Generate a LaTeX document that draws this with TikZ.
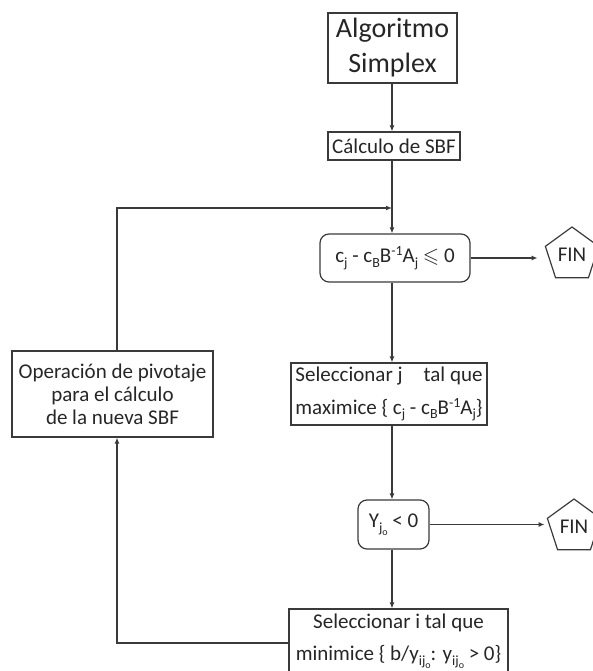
\documentclass[tikz,border=0pt]{standalone}
\usepackage{fontspec}
\setmainfont{Carlito}
\usepackage{amssymb}
\usetikzlibrary{shapes.geometric,arrows.meta}
\definecolor{ink}{HTML}{262626}
\definecolor{linec}{HTML}{3A3A3A}
\newcommand\lo[1]{\raisebox{-4.5pt}{\fontsize{14}{14}\selectfont #1}}
\newcommand\hi[1]{\raisebox{7pt}{\fontsize{14}{14}\selectfont #1}}
\newcommand\jo{\lo{j\raisebox{-3pt}{\fontsize{10}{10}\selectfont o}}}
\newcommand\ijo{\lo{ij\raisebox{-3pt}{\fontsize{10}{10}\selectfont o}}}
\begin{document}
\begin{tikzpicture}[x=1pt,y=-1pt,
  box/.style={draw=linec, line width=1.2pt, text=ink, inner sep=0pt, align=center, font=\fontsize{21}{24}\selectfont},
  rbox/.style={box, rounded corners=9pt},
  fin/.style={draw=linec, line width=1.2pt, text=ink, regular polygon, regular polygon sides=5, minimum size=56pt, inner sep=0pt, font=\fontsize{21}{24}\selectfont},
  flow/.style={draw=linec, line width=1.2pt, -{Latex[length=6pt,width=5pt]}},
  conn/.style={draw=linec, line width=1.2pt}]
\useasboundingbox (0,0) rectangle (592,671);
\coordinate (col) at (392,0);
\coordinate (lcol) at (117,0);
\coordinate (join) at (392,208);

\node[box, minimum width=129pt, minimum height=70pt, font=\fontsize{28}{35}\selectfont] (alg) at (392.5,48) {Algoritmo\\Simplex};
\node[box, minimum width=132pt, minimum height=28pt] (calc) at (394,146) {Cálculo de SBF};
\node[rbox, minimum width=150pt, minimum height=48pt] (dec1) at (395,258) {c\lo{j} - c\lo{B}B\hi{-1}A\lo{j} $\leqslant$ 0};
\node[fin] (fin1) at (572,255) {FIN};
\node[box, minimum width=196pt, minimum height=62pt, font=\fontsize{21}{33}\selectfont] (selj) at (389,394) {Seleccionar j\quad tal que\\maximice \{ c\lo{j} - c\lo{B}B\hi{-1}A\lo{j}\}};
\node[rbox, minimum width=71pt, minimum height=49pt] (yb) at (393.5,524.5) {Y\jo{} < 0};
\node[fin] (fin2) at (574,527) {FIN};
\node[box, minimum width=219pt, minimum height=64pt, font=\fontsize{21}{32}\selectfont] (seli) at (398.5,641) {Seleccionar i tal que\\minimice \{ b/y\ijo{}: y\ijo{} > 0\}};
\node[box, minimum width=201pt, minimum height=86pt, font=\fontsize{21}{23}\selectfont] (op) at (112.5,394) {Operación de pivotaje\\para el cálculo\\de la nueva SBF};

\draw[flow] (col |- alg.south) -- (col |- calc.north);
\draw[flow] (col |- calc.south) -- (col |- dec1.north);
\draw[flow] (lcol |- op.north) |- (join);
\draw[flow, shorten >=10pt] (dec1.east) -- (dec1.east -| fin1.west);
\draw[flow] (col |- dec1.south) -- (col |- selj.north);
\draw[flow] (col |- selj.south) -- (col |- yb.north);
\draw[flow, shorten >=5pt] (yb.east) -- (yb.east -| fin2.west);
\draw[flow] (col |- yb.south) -- (col |- seli.north);
\draw[flow] ([yshift=-2pt]seli.west) -| (lcol |- op.south);
\end{tikzpicture}
\end{document}
